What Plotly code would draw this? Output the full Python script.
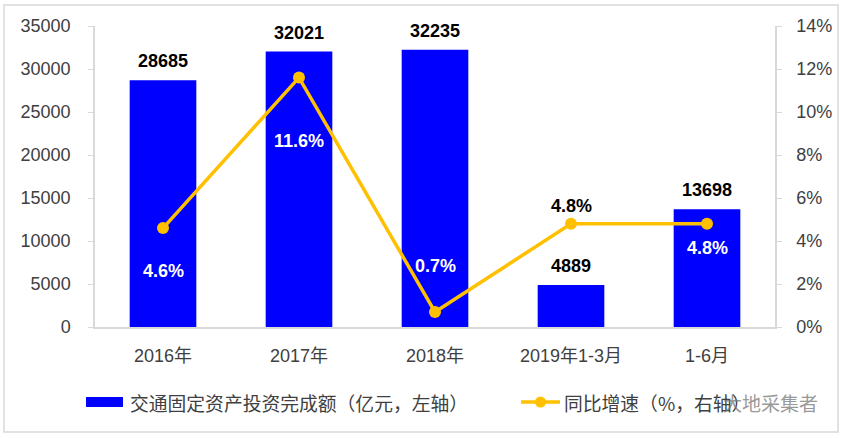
import plotly.graph_objects as go

categories = ["2016年", "2017年", "2018年", "2019年1-3月", "1-6月"]
investment = [28685, 32021, 32235, 4889, 13698]
growth = [4.6, 11.6, 0.7, 4.8, 4.8]
growth_label_shift = [-43, -63, 46, 18, -24]
growth_label_color = ["white", "white", "white", "black", "white"]
left_ticks = [0, 5000, 10000, 15000, 20000, 25000, 30000, 35000]
right_ticks = [0, 2, 4, 6, 8, 10, 12, 14]
legend_bar = "交通固定资产投资完成额（亿元，左轴）"
legend_line = "同比增速（%，右轴）"
watermark = "大地采集者"

W, H = 844, 438
L, R, T, B = 95, 775, 26, 327
FONT = "Liberation Sans, Arial, Noto Sans CJK SC, sans-serif"
CJK = "Noto Sans CJK SC, Microsoft YaHei, sans-serif"
BLUE = "#0000FF"
GOLD = "#FFC000"
GRID = "#D9D9D9"
TXT = "#404040"


def px(x):
    return (x - L) / (R - L)


def py(y):
    return (B - y) / (B - T)


fig = go.Figure()
fig.add_trace(go.Bar(x=categories, y=investment, marker=dict(color=BLUE, line=dict(width=0)),
                     name=legend_bar, showlegend=False, yaxis="y"))
fig.add_trace(go.Scatter(x=categories, y=growth, mode="lines+markers", yaxis="y2",
                         line=dict(color=GOLD, width=3.5), marker=dict(color=GOLD, size=12),
                         name=legend_line, showlegend=False))

ann = []
for c, v in zip(categories, investment):
    ann.append(dict(x=c, y=v, xref="x", yref="y", text=f"<b>{v}</b>", showarrow=False,
                    yshift=19, font=dict(family=FONT, size=18, color="#000000")))
for c, v, s, col in zip(categories, growth, growth_label_shift, growth_label_color):
    ann.append(dict(x=c, y=v, xref="x", yref="y2", text=f"<b>{v:.1f}%</b>", showarrow=False,
                    yshift=s, font=dict(family=FONT, size=18, color=col)))

# custom legend
ann.append(dict(x=px(128), y=py(402), xref="paper", yref="paper", xanchor="left", yanchor="middle",
                text=legend_bar, showarrow=False, font=dict(family=CJK, size=18.8, color=TXT)))
ann.append(dict(x=px(562), y=py(402), xref="paper", yref="paper", xanchor="left", yanchor="middle",
                text=legend_line, showarrow=False, font=dict(family=CJK, size=18.8, color=TXT)))
ann.append(dict(x=px(721), y=py(402), xref="paper", yref="paper", xanchor="left", yanchor="middle",
                text=watermark, showarrow=False, opacity=0.75,
                font=dict(family=CJK, size=19, color="#777777")))

shapes = [
    dict(type="rect", xref="paper", yref="paper", x0=px(4), x1=px(838), y0=py(432), y1=py(5),
         line=dict(color=GRID, width=1.5), fillcolor="rgba(0,0,0,0)", layer="below"),
    dict(type="rect", xref="paper", yref="paper", x0=px(86), x1=px(123), y0=py(407), y1=py(397),
         line=dict(width=0), fillcolor=BLUE),
    dict(type="line", xref="paper", yref="paper", x0=px(521), x1=px(560), y0=py(402), y1=py(402),
         line=dict(color=GOLD, width=3.5)),
    dict(type="circle", xref="paper", yref="paper", x0=px(535), x1=px(546), y0=py(407.5), y1=py(396.5),
         line=dict(width=0), fillcolor=GOLD),
]

fig.update_layout(
    width=W, height=H,
    margin=dict(l=L, r=W - R, t=T, b=H - B, pad=0),
    paper_bgcolor="white", plot_bgcolor="white",
    bargap=0.51,
    showlegend=False,
    annotations=ann,
    shapes=shapes,
    xaxis=dict(type="category", range=[-0.5, 4.5], showline=True, linecolor=GRID, linewidth=1.5,
               ticks="", showgrid=False, tickfont=dict(family=FONT, size=18, color=TXT),
               ticklabelstandoff=12),
    yaxis=dict(range=[0, 35000], tickvals=left_ticks, ticktext=[str(t) for t in left_ticks],
               showline=True, linecolor=GRID, linewidth=1.5, ticks="outside", ticklen=5,
               tickcolor=GRID, showgrid=False, zeroline=False,
               tickfont=dict(family=FONT, size=18, color=TXT), ticklabelstandoff=14),
    yaxis2=dict(range=[0, 14], overlaying="y", side="right", tickvals=right_ticks,
                ticktext=[f"{t}%" for t in right_ticks], showline=True, linecolor=GRID,
                linewidth=1.5, ticks="outside", ticklen=5, tickcolor=GRID, showgrid=False,
                zeroline=False, tickfont=dict(family=FONT, size=18, color=TXT),
                ticklabelstandoff=11),
)

fig.write_html("out.html")
